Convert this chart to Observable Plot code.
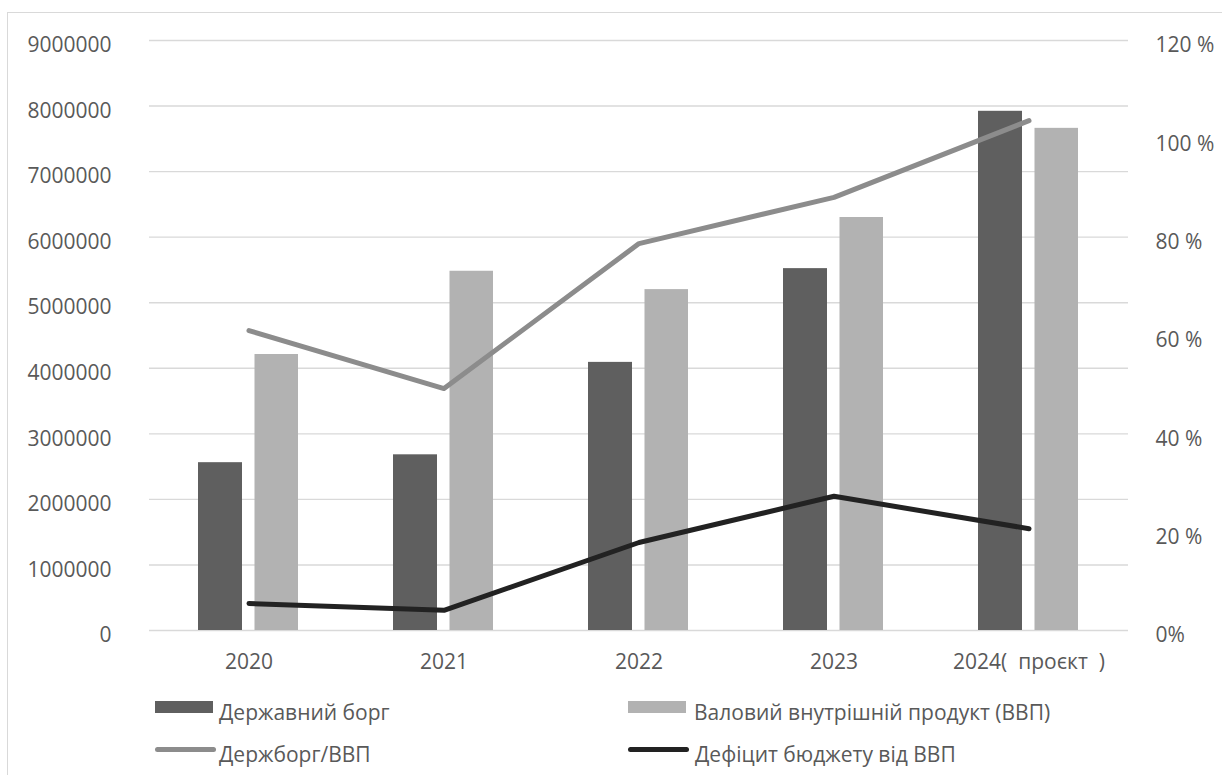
<!DOCTYPE html>
<html><head><meta charset="utf-8">
<script src="https://cdn.jsdelivr.net/npm/d3@7"></script>
<script src="https://cdn.jsdelivr.net/npm/@observablehq/plot@0.6"></script>
<style>
body{margin:0;background:#fff;overflow:hidden;font-family:"Open Sans",sans-serif;}
#wrap{position:relative;width:1222px;height:775px;overflow:hidden;background:#fff;}
#frame{position:absolute;left:7px;top:12px;width:1240px;height:800px;border:1.5px solid #d9d9d9;box-sizing:border-box;}
#chart{position:absolute;left:0;top:0;}
#chart svg text{white-space:pre;}
#legend{position:absolute;left:0;top:690px;width:1222px;height:85px;}
.sw{position:absolute;}
.lt{position:absolute;font-size:21px;line-height:21px;color:#595959;white-space:nowrap;}
</style>
</head><body>
<div id="wrap"><div id="frame"></div><div id="chart"></div><div id="legend"></div></div>
<script>
const years = ["2020", "2021", "2022", "2023", "2024(  проєкт  )"];
const debt = [2560000, 2680000, 4090000, 5520000, 7920000];
const gdp = [4210000, 5480000, 5200000, 6300000, 7660000];
const debtToGdp = [61.0, 49.2, 78.7, 88.1, 103.7];
const deficit = [5.5, 4.1, 17.9, 27.3, 20.7];
const leftTicks = [0, 1000000, 2000000, 3000000, 4000000, 5000000, 6000000, 7000000, 8000000, 9000000];
const rightTicks = [0, 20, 40, 60, 80, 100, 120];
const rightTickLabels = ["0%", "20 %", "40 %", "60 %", "80 %", "100 %", "120 %"];
const seriesNames = ["Державний борг", "Валовий внутрішній продукт (ВВП)", "Держборг/ВВП", "Дефіцит бюджету від ВВП"];
const seriesColors = ["#5f5f5f", "#b2b2b2", "#8c8c8c", "#222222"];

const k = leftTicks[leftTicks.length - 1] / rightTicks[rightTicks.length - 1];
const rows = years.map((y, i) => ({year: y, debt: debt[i], gdp: gdp[i], ratio: debtToGdp[i] * k, deficit: deficit[i] * k}));

const chart = Plot.plot({
  width: 1222, height: 690,
  marginLeft: 149, marginRight: 94, marginTop: 40, marginBottom: 60,
  x: {type: "band", domain: years, padding: 0, label: null},
  y: {domain: [0, 9000000], label: null},
  style: {fontFamily: "Open Sans", fontSize: "21px", color: "#595959", background: "transparent", overflow: "visible"},
  marks: [
    Plot.gridY(leftTicks, {stroke: "#d9d9d9", strokeOpacity: 1, strokeWidth: 1.4}),
    Plot.axisY({anchor: "left", ticks: leftTicks, tickSize: 0, tickPadding: 38, dy: 5, tickFormat: d => String(d), fill: "#595959", label: null}),
    Plot.axisY({anchor: "right", ticks: rightTicks.map(p => p * k), tickSize: 0, tickPadding: 27, dy: 5,
      tickFormat: d => rightTickLabels[rightTicks.indexOf(Math.round(d / k))], fill: "#595959", label: null}),
    Plot.axisX({tickSize: 0, tickPadding: 24, fill: "#595959", label: null}),
    Plot.barY(rows, {x: "year", y: "debt", fill: seriesColors[0], insetLeft: 47, insetRight: 104}),
    Plot.barY(rows, {x: "year", y: "gdp", fill: seriesColors[1], insetLeft: 103.5, insetRight: 48}),
    Plot.line(rows, {x: "year", y: "ratio", stroke: seriesColors[2], strokeWidth: 5, strokeLinecap: "round"}),
    Plot.line(rows, {x: "year", y: "deficit", stroke: seriesColors[3], strokeWidth: 5, strokeLinecap: "round"})
  ]
});
document.getElementById("chart").appendChild(chart);

const legend = document.getElementById("legend");
const items = [
  {x: 155, tx: 219, row: 0, kind: "rect"},
  {x: 628, tx: 694, row: 0, kind: "rect"},
  {x: 155, tx: 219, row: 1, kind: "line"},
  {x: 628, tx: 695, row: 1, kind: "line"}
];
items.forEach((it, i) => {
  const sw = document.createElement("div");
  sw.className = "sw";
  sw.style.left = it.x + "px";
  sw.style.background = seriesColors[i];
  if (it.kind === "rect") {
    sw.style.top = "11px"; sw.style.width = "58px"; sw.style.height = "12px";
  } else {
    sw.style.top = "57px"; sw.style.width = "61px"; sw.style.height = "5px"; sw.style.borderRadius = "3px";
  }
  legend.appendChild(sw);
  const t = document.createElement("div");
  t.className = "lt";
  t.style.left = it.tx + "px";
  t.style.top = (it.row === 0 ? 12 : 54) + "px";
  t.textContent = seriesNames[i];
  legend.appendChild(t);
});
</script>
</body></html>
